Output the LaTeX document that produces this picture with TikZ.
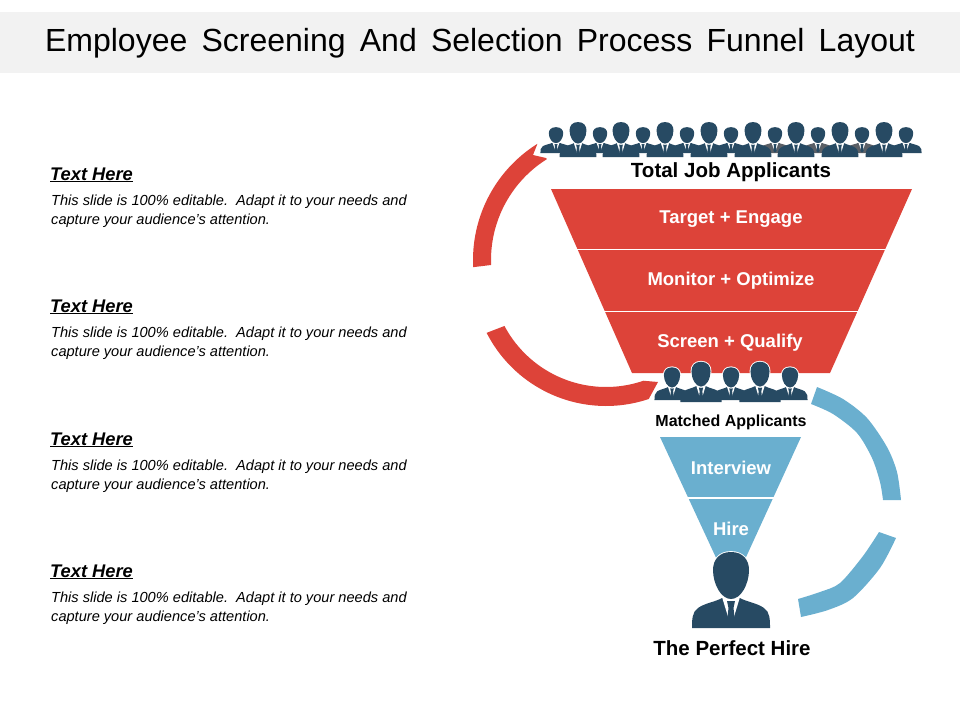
\documentclass[tikz,border=0pt]{standalone}
\usepackage{fontspec}
\setmainfont{Liberation Sans}
\newfontfamily\titlefont[WordSpace=1.6]{Liberation Sans}
\definecolor{redc}{HTML}{DD4339}
\definecolor{bluec}{HTML}{6AAFCF}
\definecolor{darkc}{HTML}{274A63}
\definecolor{greyc}{HTML}{5A5F66}
\definecolor{bandc}{HTML}{F2F2F2}
\tikzset{
  pics/person/.style={code={
    \fill[#1] (-39,0) .. controls (-39,8) and (-39,16) .. (-33,20) .. controls (-26,25) and (-16,26) .. (-9,30) -- (9,30) .. controls (16,26) and (26,25) .. (33,20) .. controls (39,16) and (39,8) .. (39,0) -- cycle;
    \fill[white] (-9,31) -- (-2,8) -- (2,8) -- (9,31) -- cycle;
    \fill[darkc] (-4,27) -- (4,27) -- (2.5,20) -- (4,6) -- (0,1) -- (-4,6) -- (-2.5,20) -- cycle;
    \filldraw[darkc,draw=white,line width=1.8pt] (0,76) .. controls (12,76) and (18,68) .. (18,58) .. controls (18,44) and (10,29) .. (0,29) .. controls (-10,29) and (-18,44) .. (-18,58) .. controls (-18,68) and (-12,76) .. (0,76) -- cycle;
    \fill[darkc] (0,76) .. controls (12,76) and (18,68) .. (18,58) .. controls (18,44) and (10,29) .. (0,29) .. controls (-10,29) and (-18,44) .. (-18,58) .. controls (-18,68) and (-12,76) .. (0,76) -- cycle;
  }},
  toplabel/.style={inner sep=0pt,font=\bfseries\fontsize{20.5}{24}\selectfont},
  stagelabel/.style={inner sep=0pt,text=white,font=\bfseries\fontsize{18.5}{22}\selectfont},
  headlabel/.style={inner sep=0pt,anchor=base west,font=\bfseries\itshape\fontsize{18.3}{22}\selectfont},
  bodylabel/.style={inner sep=0pt,anchor=base west,font=\itshape\fontsize{14.6}{18}\selectfont},
  sepline/.style={white,line width=1.6pt},
}
\begin{document}
\begin{tikzpicture}[x=1pt,y=-1pt]
\useasboundingbox (0,0) rectangle (960,720);
\fill[bandc] (0,12) rectangle (960,73);
\node[inner sep=0pt,font=\titlefont\fontsize{32}{38}\selectfont] (title) at (480,43.5) {Employee Screening And Selection Process Funnel Layout};

% left text blocks
\foreach \n/\y in {a/180,b/312,c/445,d/577}{
  \node[headlabel] (head\n) at (50,\y) {\underline{Text Here}};
  \node[bodylabel] (bodyA\n) at (51,\y+25) {This slide is 100\% editable.\ \ Adapt it to your needs and};
  \node[bodylabel] (bodyB\n) at (51,\y+44) {capture your audience's attention.};
}

% red funnel
\fill[redc] (551,189) -- (912,189) -- (830,373) -- (632,373) -- cycle;
\draw[sepline] (570,249.5) -- (895,249.5);
\draw[sepline] (595,311.5) -- (868,311.5);

% blue funnel
\fill[bluec] (660,437) -- (801,437) -- (731,590) -- cycle;
\draw[sepline] (680,498) -- (782,498);

% red arcs
\fill[redc] plot[domain=183:122,samples=40] ({610+137*cos(\x)},{260-137*sin(\x)}) -- (533,155) -- (546,158) -- plot[domain=122:182.4,samples=40] ({610+119*cos(\x)},{260-119*sin(\x)}) -- cycle;
\fill[redc] plot[domain=207:288.6,samples=40] ({606+134*cos(\x)},{272-134*sin(\x)}) -- (658,382) -- plot[domain=289:208,samples=40] ({606+115*cos(\x)},{272-115*sin(\x)}) -- cycle;

% blue arcs
\fill[bluec] plot[smooth] coordinates {(817,387) (843,399) (867,418) (887,447) (897,472) (901,500)} -- plot[smooth] coordinates {(883,500) (880,482) (872,458) (857,433) (833,414) (811,404)} -- cycle;
\fill[bluec] plot[smooth] coordinates {(896,538) (880,568) (853,598) (828,610) (801,617)} -- plot[smooth] coordinates {(798,599) (820,592) (840,583) (863,556) (879,532)} -- cycle;

% people: top row
\foreach \x/\c in {556/darkc,600/darkc,643/darkc,687/darkc,731/darkc,775/greyc,818/greyc,862/greyc,906/darkc}{
  \pic[yscale=-0.34,xscale=0.4] at (\x,153) {person=\c};
}
\foreach \x in {578,621,665,709,753,796,840,884}{
  \pic[yscale=-0.46,xscale=0.47] at (\x,157) {person=darkc};
}
% people: matched
\foreach \x in {672,731,790}{
  \pic[yscale=-0.43,xscale=0.45] at (\x,400) {person=darkc};
}
\foreach \x in {701,760}{
  \pic[yscale=-0.53,xscale=0.53] at (\x,402) {person=darkc};
}
% perfect hire
\pic[yscale=-1,xscale=1] at (731,628) {person=darkc};

% labels
\node[toplabel] (total) at (731,172) {Total Job Applicants};
\node[stagelabel] (s1) at (731,219) {Target + Engage};
\node[stagelabel] (s2) at (731,281) {Monitor + Optimize};
\node[stagelabel] (s3) at (730,343) {Screen + Qualify};
\node[inner sep=0pt,font=\bfseries\fontsize{16}{19}\selectfont] (matched) at (731,422) {Matched Applicants};
\node[stagelabel] (s4) at (731,468) {Interview};
\node[stagelabel] (s5) at (731,529) {Hire};
\node[toplabel] (perfect) at (732,648) {The Perfect Hire};
\end{tikzpicture}
\end{document}
